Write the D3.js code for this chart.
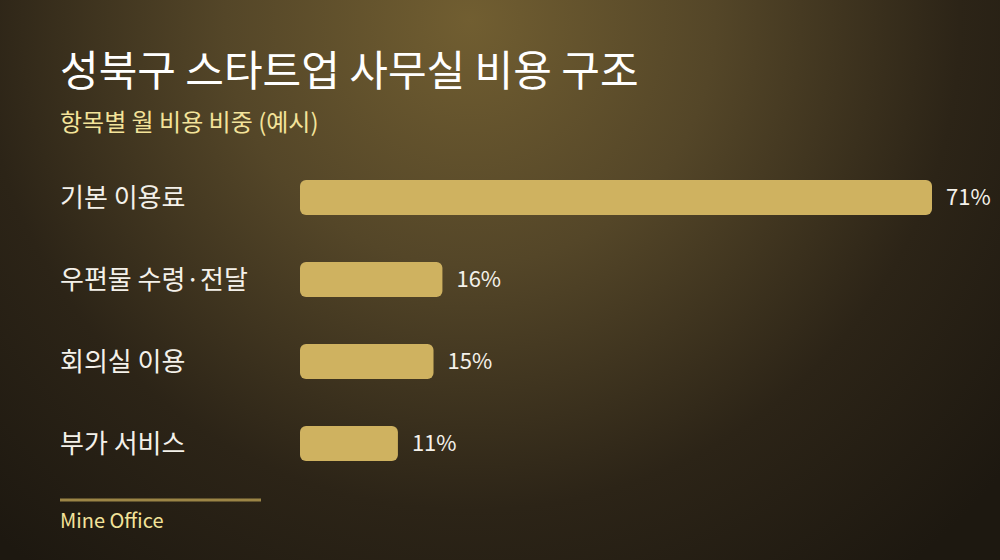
<!DOCTYPE html>
<html>
<head>
<meta charset="utf-8">
<script src="https://cdn.jsdelivr.net/npm/d3@7"></script>
<style>
  html, body { margin: 0; padding: 0; background: #1e1910; }
  svg { display: block; font-family: "Noto Sans CJK KR", "Noto Sans", sans-serif; }
</style>
</head>
<body>
<svg id="chart" width="1000" height="560"></svg>
<script>
// data
var categories = ["기본 이용료", "우편물 수령·전달", "회의실 이용", "부가 서비스"];
var shares = [71, 16, 15, 11];
var valueLabels = ["71%", "16%", "15%", "11%"];

var W = 1000, H = 560;
var svg = d3.select("#chart");

// background glow
var defs = svg.append("defs");
var grad = defs.append("radialGradient")
    .attr("id", "bg")
    .attr("gradientUnits", "userSpaceOnUse")
    .attr("cx", 470).attr("cy", 20).attr("r", 700);
grad.append("stop").attr("offset", "0%").attr("stop-color", "#715e31");
grad.append("stop").attr("offset", "35%").attr("stop-color", "#544628");
grad.append("stop").attr("offset", "70%").attr("stop-color", "#2c2417");
grad.append("stop").attr("offset", "100%").attr("stop-color", "#1d1810");

svg.append("rect").attr("width", W).attr("height", H).attr("fill", "url(#bg)");

// titles
svg.append("text")
    .attr("x", 60).attr("y", 86)
    .attr("fill", "#ffffff")
    .style("font-size", "42px")
    .style("font-weight", 400)
    .text("성북구 스타트업 사무실 비용 구조");

svg.append("text")
    .attr("x", 60).attr("y", 131)
    .attr("fill", "#f3e39a")
    .style("font-size", "24px")
    .text("항목별 월 비용 비중 (예시)");

// scales
var x = d3.scaleLinear()
    .domain([0, d3.max(shares)])
    .range([300, 932]);

var y = d3.scaleBand()
    .domain(categories)
    .range([180, 461])
    .paddingInner(47 / 82)
    .paddingOuter(0);

var rows = svg.append("g").selectAll("g")
    .data(categories)
    .enter().append("g");

rows.append("rect")
    .attr("x", x(0))
    .attr("y", function(d) { return y(d); })
    .attr("width", function(d, i) { return x(shares[i]) - x(0); })
    .attr("height", y.bandwidth())
    .attr("rx", 6)
    .attr("fill", "#cfb260");

rows.append("text")
    .attr("x", 60)
    .attr("y", function(d) { return y(d) + y.bandwidth() / 2; })
    .attr("dy", "0.36em")
    .attr("fill", "#f4f1ea")
    .style("font-size", "26px")
    .text(function(d) { return d; });

rows.append("text")
    .attr("x", function(d, i) { return x(shares[i]) + 14; })
    .attr("y", function(d) { return y(d) + y.bandwidth() / 2; })
    .attr("dy", "0.36em")
    .attr("fill", "#f4f1ea")
    .style("font-size", "22px")
    .text(function(d, i) { return valueLabels[i]; });

// footer
svg.append("line")
    .attr("x1", 60).attr("x2", 261)
    .attr("y1", 500).attr("y2", 500)
    .attr("stroke", "#9c8546")
    .attr("stroke-width", 3);

svg.append("text")
    .attr("x", 60).attr("y", 528)
    .attr("fill", "#f3e39a")
    .style("font-size", "20px")
    .text("Mine Office");
</script>
</body>
</html>
